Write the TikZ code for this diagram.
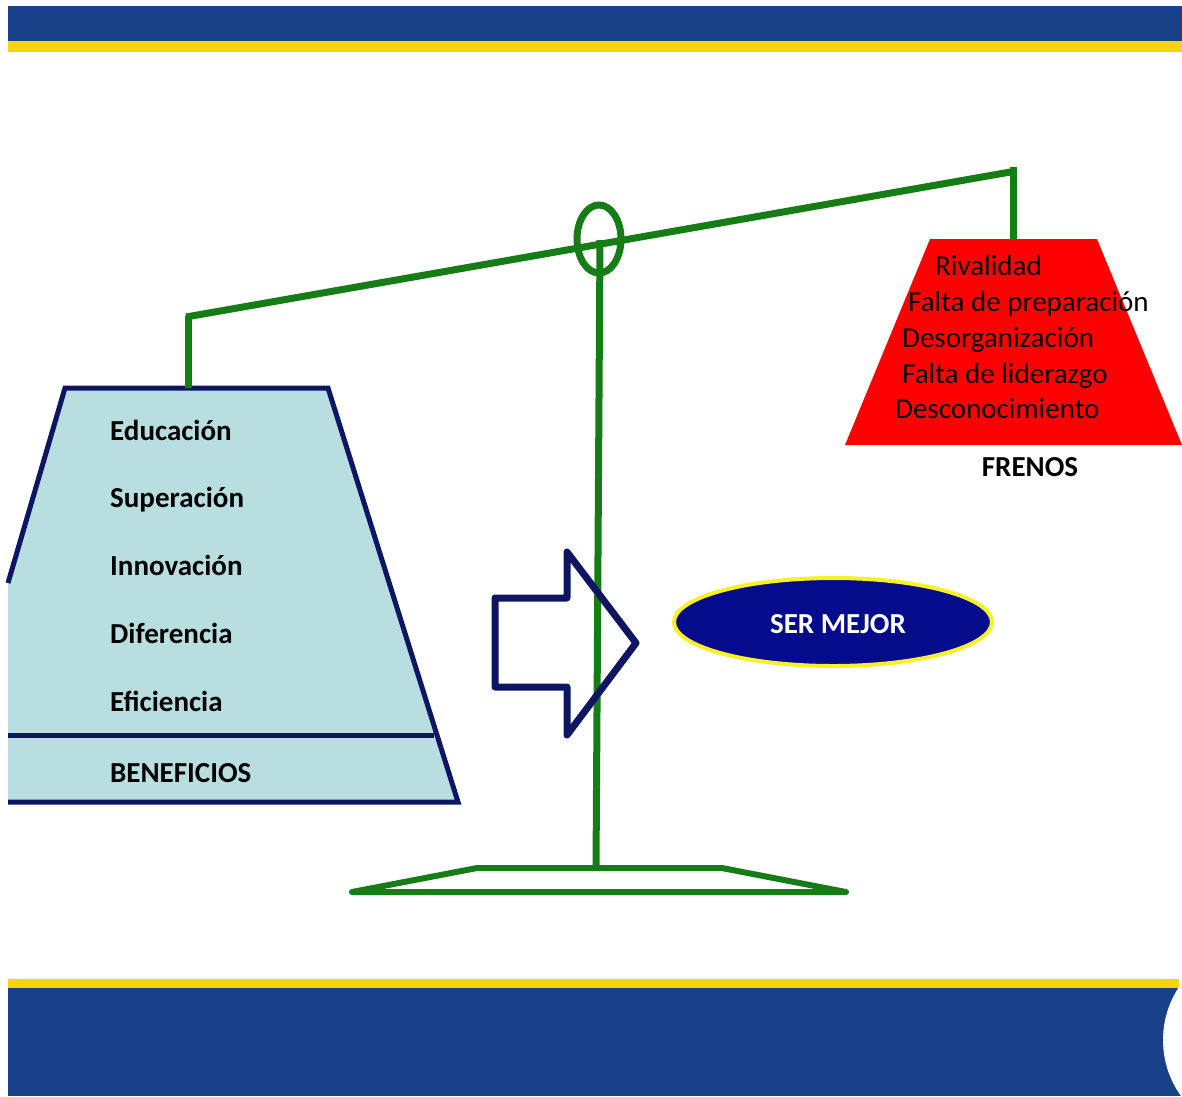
\documentclass[tikz,border=0pt]{standalone}
\usepackage{fontspec}
\setmainfont{Carlito}
\usetikzlibrary{shapes.geometric}
\definecolor{barblue}{RGB}{24,65,138}
\definecolor{baryellow}{RGB}{246,212,14}
\definecolor{scalegreen}{RGB}{22,124,22}
\definecolor{navyline}{RGB}{14,22,100}
\definecolor{lightcyan}{RGB}{184,222,224}
\definecolor{ovalnavy}{RGB}{4,12,140}
\definecolor{ovalyellow}{RGB}{250,240,40}
\tikzset{
  lbl/.style={inner sep=0pt, anchor=base west, font=\fontsize{29}{34}\selectfont},
  lblb/.style={lbl, font=\fontsize{29}{34}\selectfont\bfseries},
  greenline/.style={draw=scalegreen, line width=7pt},
  navyedge/.style={draw=navyline, line width=5pt, line join=miter}
}
\begin{document}
\begin{tikzpicture}[x=1pt,y=-1pt]
\useasboundingbox (0,0) rectangle (1182,1096);
\begin{scope}
\clip (0,0) rectangle (1182,1096);
% top bar
\fill[barblue] (8,6) rectangle (1182,41);
\fill[baryellow] (8,41) rectangle (1182,52);
% bottom bar
\fill[baryellow] (8,979) rectangle (1179,988);
\fill[barblue] (8,988) rectangle (1182,1096);
\fill[white] (1259,1040) circle (96);

% left pan (BENEFICIOS)
\fill[lightcyan] (8,583) -- (65,388) -- (328,388) -- (458,802) -- (8,802) -- cycle;
\draw[navyedge] (8,583) -- (65,388) -- (328,388) -- (458,802) -- (8,802);
\draw[navyedge] (8,735) -- (434,735);

% right pan (FRENOS)
\fill[red] (930,239) -- (1097,239) -- (1182,445) -- (845,445) -- cycle;

% scale
\draw[greenline] (188,316) -- (188,388);
\draw[greenline] (1013,167) -- (1013,240);
\draw[greenline] (186,317) -- (1016,171);
\draw[greenline] (600,240) -- (596,868);
\draw[scalegreen, line width=7pt] (599,239) ellipse (22 and 34);
\draw[draw=scalegreen, line width=6pt, line join=round, line cap=round]
  (477,868) -- (722,868) -- (846,892) -- (352,892) -- cycle;

% arrow
\draw[navyedge, line width=7pt, line join=round]
  (495,598) -- (567,598) -- (567,552) -- (636,643) -- (567,735) -- (567,687) -- (495,687) -- cycle;

% oval
\node (oval) [ellipse, inner sep=0pt, minimum width=318pt, minimum height=88pt,
  fill=ovalnavy, draw=ovalyellow, line width=4pt] at (833,622) {};
\node (sermejor) [lblb, anchor=base, text=white] at (838,633) {SER MEJOR};

% left texts
\node (t1) [lblb] at (110,440) {Educación};
\node (t2) [lblb] at (110,507) {Superación};
\node (t3) [lblb] at (110,575) {Innovación};
\node (t4) [lblb] at (110,643) {Diferencia};
\node (t5) [lblb] at (110,711) {Eficiencia};
\node (ben) [lblb] at (110,782) {BENEFICIOS};

% right texts
\node (r1) [lbl] at (935,275) {Rivalidad};
\node (r2) [lbl] at (908,311) {Falta de preparación};
\node (r3) [lbl] at (902,347) {Desorganización};
\node (r4) [lbl] at (902,383) {Falta de liderazgo};
\node (r5) [lbl] at (895,418) {Desconocimiento};
\node (fre) [lblb, anchor=base] at (1030,476) {FRENOS};
\end{scope}
\end{tikzpicture}
\end{document}
